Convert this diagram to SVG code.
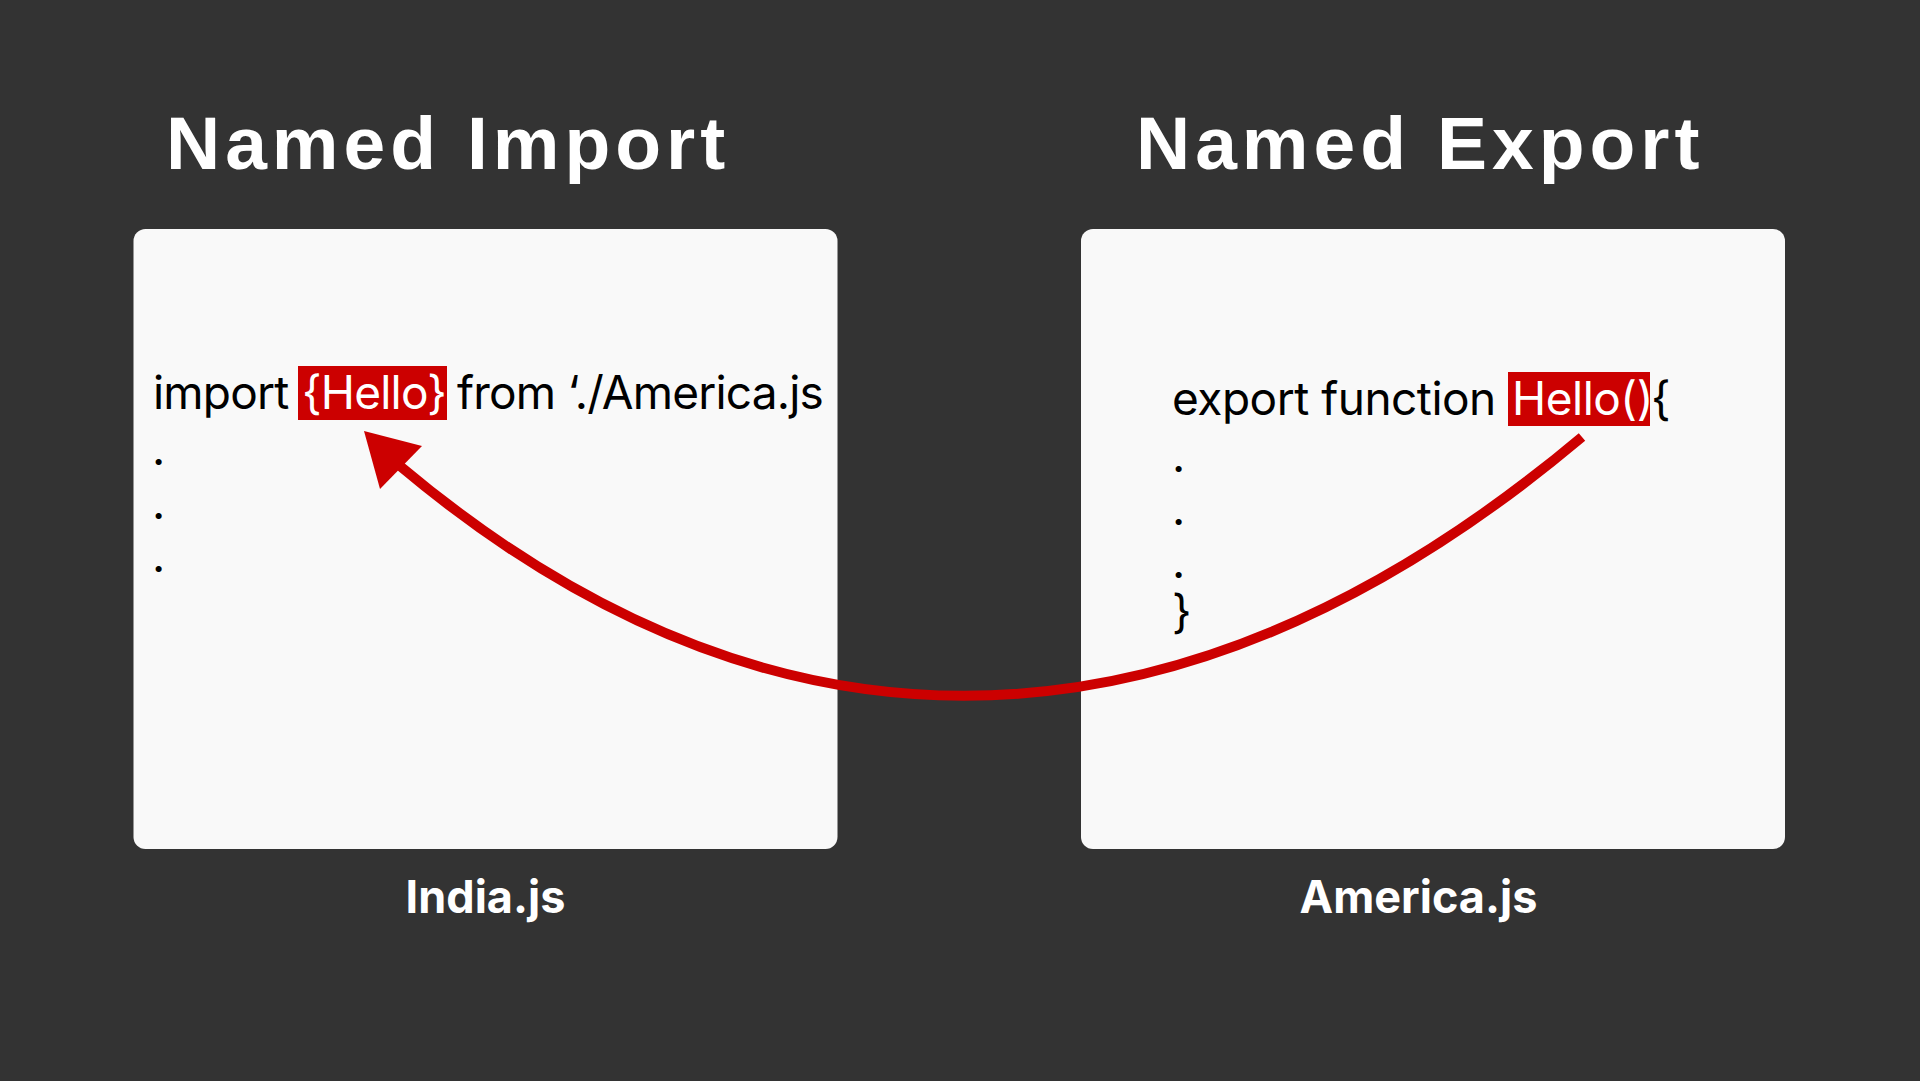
<svg xmlns="http://www.w3.org/2000/svg" width="1920" height="1081" viewBox="0 0 1920 1081">
  <style>
    .title { font-family: "Liberation Sans", Arial, sans-serif; font-weight: bold; font-size: 75px; letter-spacing: 5px; fill: #FFFFFF; }
    .code { font-family: Inter, "Noto Sans", sans-serif; font-size: 46px; letter-spacing: -0.8px; fill: #000000; }
    .code2 { letter-spacing: -0.5px; }
    .hl { fill: #FFFFFF; }
    .label { font-family: Inter, "Noto Sans", sans-serif; font-weight: bold; font-size: 45px; fill: #FFFFFF; }
    .box { fill: #F9F9F9; }
    .mark { fill: #CC0000; }
  </style>
  <rect x="0" y="0" width="1920" height="1081" fill="#333333"/>

  <g id="title-import"><text class="title" x="166" y="169">Named Import</text></g>
  <g id="title-export"><text class="title" x="1136" y="169">Named Export</text></g>

  <g id="india-box">
    <rect class="box" x="133.5" y="229" width="704" height="620" rx="12"/>
    <rect class="mark" x="298" y="366" width="149" height="54"/>
    <text class="code" y="409"><tspan x="153">import</tspan><tspan class="hl" x="302">{Hello}</tspan><tspan x="457">from ‘./America.js</tspan></text>
    <text class="code" x="152" y="465">.</text>
    <text class="code" x="152" y="519">.</text>
    <text class="code" x="152" y="572">.</text>
  </g>

  <g id="america-box">
    <rect class="box" x="1081" y="229" width="704" height="620" rx="12"/>
    <rect class="mark" x="1508" y="372" width="142" height="54"/>
    <text class="code code2" y="415"><tspan x="1172">export function</tspan><tspan class="hl" x="1512">Hello()</tspan><tspan x="1651">{</tspan></text>
    <text class="code" x="1172" y="472">.</text>
    <text class="code" x="1172" y="525">.</text>
    <text class="code" x="1172" y="578">.</text>
    <text class="code" x="1172" y="628">}</text>
  </g>

  <g id="label-india"><text class="label" x="485.5" y="913" text-anchor="middle">India.js</text></g>
  <g id="label-america"><text class="label" x="1418.5" y="913" text-anchor="middle">America.js</text></g>

  <g id="connectors">
    <path d="M1582,437 C1195,762 787,791 400,466" fill="none" stroke="#CC0000" stroke-width="10"/>
    <polygon class="mark" points="364,431 422,446 380,489"/>
  </g>
</svg>
